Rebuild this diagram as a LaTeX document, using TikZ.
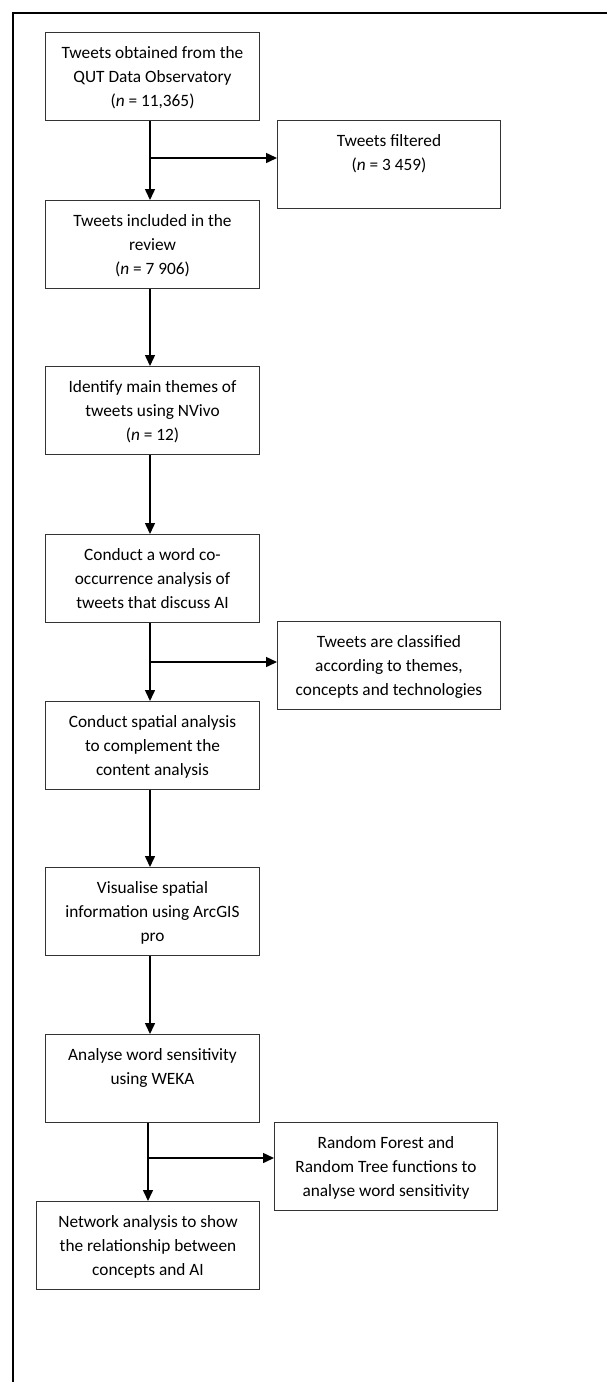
\documentclass[tikz,border=0pt]{standalone}
\usepackage{fontspec}
\setmainfont{Carlito}
\usetikzlibrary{arrows.meta}
\newcommand\boxtext[2]{\parbox[c][88pt][t]{#1pt}{\centering\fontsize{17.3}{24}\selectfont\rule{0pt}{26pt}#2\par}}
\begin{document}
\begin{tikzpicture}[x=1pt,y=-1pt,
  box/.style={draw=black!80, line width=1pt, inner sep=0pt, anchor=north west},
  arr/.style={line width=1.5pt, -{Triangle[length=11pt,width=10pt]}},
  frame/.style={line width=1.4pt}]
\useasboundingbox (0,0) rectangle (607,1382);
\coordinate (f0) at (13,1382);
\coordinate (f1) at (13,13);
\coordinate (f2) at (607,13);
\draw[frame] (f0) -- (f1) -- (f2);

\node[box] (b1) at (45,32) {\boxtext{214}{Tweets obtained from the\\QUT Data Observatory\\(\textit{n} = 11,365)}};
\node[box] (s1) at (277,120) {\boxtext{223}{Tweets filtered\\(\textit{n} = 3 459)}};
\node[box] (b2) at (45,200) {\boxtext{214}{Tweets included in the\\review\\(\textit{n} = 7 906)}};
\node[box] (b3) at (45,366) {\boxtext{214}{Identify main themes of\\tweets using NVivo\\(\textit{n} = 12)}};
\node[box] (b4) at (45,534) {\boxtext{214}{Conduct a word co-\\occurrence analysis of\\tweets that discuss AI}};
\node[box] (s2) at (277,621) {\boxtext{223}{Tweets are classified\\according to themes,\\concepts and technologies}};
\node[box] (b5) at (45,701) {\boxtext{214}{Conduct spatial analysis\\to complement the\\content analysis}};
\node[box] (b6) at (45,867) {\boxtext{214}{Visualise spatial\\information using ArcGIS\\pro}};
\node[box] (b7) at (45,1034) {\boxtext{214}{Analyse word sensitivity\\using WEKA}};
\node[box] (s3) at (274,1122) {\boxtext{223}{Random Forest and\\Random Tree functions to\\analyse word sensitivity}};
\node[box] (b8) at (36,1201) {\boxtext{223}{Network analysis to show\\the relationship between\\concepts and AI}};

\coordinate (ax) at (150,0);
\coordinate (bx) at (148,0);
\coordinate (j1) at (150,158);
\coordinate (j2) at (150,662);
\coordinate (j3) at (148,1158);

\draw[arr] (b1.south -| ax) -- (b2.north -| ax);
\draw[arr] (j1) -- (j1 -| s1.west);
\draw[arr] (b2.south -| ax) -- (b3.north -| ax);
\draw[arr] (b3.south -| ax) -- (b4.north -| ax);
\draw[arr] (b4.south -| ax) -- (b5.north -| ax);
\draw[arr] (j2) -- (j2 -| s2.west);
\draw[arr] (b5.south -| ax) -- (b6.north -| ax);
\draw[arr] (b6.south -| ax) -- (b7.north -| ax);
\draw[arr] (b7.south -| bx) -- (b8.north -| bx);
\draw[arr] (j3) -- (j3 -| s3.west);
\end{tikzpicture}
\end{document}
